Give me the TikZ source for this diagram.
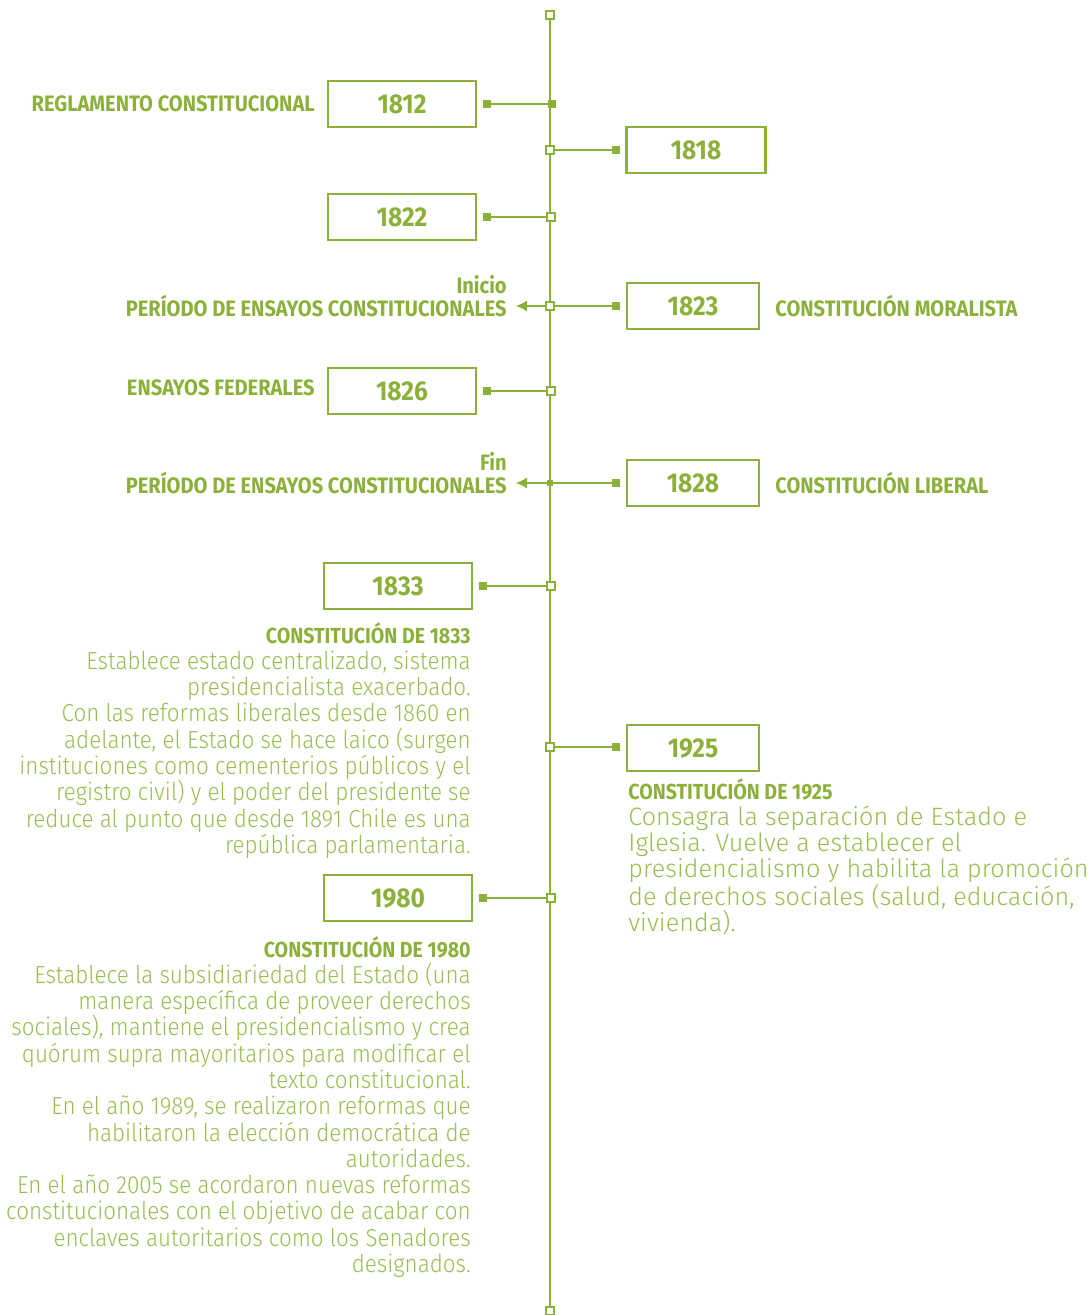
\documentclass[tikz,border=0pt]{standalone}
\usepackage{fontspec}
\setmainfont{Fira Sans}
\newfontfamily\condfont[FakeStretch=0.9]{Fira Sans}
\newfontfamily\condlight[FakeStretch=0.91]{Fira Sans Light}
\newfontfamily\widelight[LetterSpace=0.3]{Fira Sans Light}
\usetikzlibrary{arrows.meta}

\definecolor{leaf}{RGB}{140,177,58}
\definecolor{leaflight}{RGB}{152,190,80}

\tikzset{
  yearbox/.style={draw=leaf, line width=1.6pt, text=leaf, minimum height=0.92cm,
    inner sep=0pt, font=\condfont\bfseries\fontsize{15.5}{16}\selectfont},
  sqfull/.style={fill=leaf, minimum size=0.16cm, inner sep=0pt},
  sqopen/.style={draw=leaf, fill=white, line width=0.6pt, minimum size=0.16cm, inner sep=0pt},
  link/.style={draw=leaf, line width=0.9pt},
  tag/.style={text=leaf, inner sep=0pt, align=right, font=\condfont\bfseries\fontsize{12.7}{13}\selectfont},
  body/.style={text=leaflight, inner sep=0pt, font=\condlight\fontsize{14}{14.95}\selectfont},
  toleft/.style={link, -{Latex[length=6.5pt, width=6.5pt]}, shorten >=5pt},
}
\newcommand{\headline}[1]{{\condfont\bfseries\color{leaf}\fontsize{12.4}{14}\selectfont #1}}

\begin{document}
\begin{tikzpicture}[x=0.02cm, y=-0.02cm]
  \useasboundingbox (0,0) rectangle (1089,1315);
  % timeline
  \coordinate (tltop) at (550,15);
  \coordinate (tlbot) at (550,1311);
  \draw[link] (tltop) -- (tlbot);
  \node[sqopen] (top) at (tltop) {};
  \node[sqopen] (bot) at (tlbot) {};

  % 1812
  \node[yearbox, minimum width=2.96cm] (y1812) at (402,104) {1812};
  \node[sqfull] (s1812) at (487,104) {};
  \node[sqfull] (t1812) at (552,104) {};
  \draw[link] (s1812) -- (t1812);
  \node[tag, anchor=east] (l1812) at (315,104) {REGLAMENTO CONSTITUCIONAL};

  % 1818
  \node[yearbox, minimum width=2.78cm] (y1818) at (696,150) {1818};
  \node[sqopen] (t1818) at (550,150) {};
  \node[sqfull] (s1818) at (616,150) {};
  \draw[link] (t1818) -- (s1818);

  % 1822
  \node[yearbox, minimum width=2.96cm] (y1822) at (402,217) {1822};
  \node[sqfull] (s1822) at (487,217) {};
  \node[sqopen] (t1822) at (551,217) {};
  \draw[link] (s1822) -- (t1822);

  % 1823
  \node[yearbox, minimum width=2.64cm] (y1823) at (693,306) {1823};
  \node[sqopen] (t1823) at (550,306) {};
  \node[sqfull] (s1823) at (616,306) {};
  \draw[link] (t1823) -- (s1823);
  \node[tag, anchor=east] (l1823) at (507,306) {PERÍODO DE ENSAYOS CONSTITUCIONALES};
  \node[tag, anchor=south east] (i1823) at (507,294) {Inicio};
  \draw[toleft] (t1823) -- (l1823.east);
  \node[tag, anchor=west] (r1823) at (775,306) {CONSTITUCIÓN MORALISTA};

  % 1826
  \node[yearbox, minimum width=2.96cm] (y1826) at (402,391) {1826};
  \node[sqfull] (s1826) at (487,391) {};
  \node[sqopen] (t1826) at (551,391) {};
  \draw[link] (s1826) -- (t1826);
  \node[tag, anchor=east] (l1826) at (315,388) {ENSAYOS FEDERALES};

  % 1828
  \node[yearbox, minimum width=2.64cm] (y1828) at (693,483) {1828};
  \node[sqfull, minimum size=0.12cm] (t1828) at (550,483) {};
  \node[sqfull] (s1828) at (616,483) {};
  \draw[link] (t1828) -- (s1828);
  \node[tag, anchor=east] (l1828) at (507,483) {PERÍODO DE ENSAYOS CONSTITUCIONALES};
  \node[tag, anchor=south east] (f1828) at (507,471) {Fin};
  \draw[toleft] (t1828) -- (l1828.east);
  \node[tag, anchor=west] (r1828) at (775,483) {CONSTITUCIÓN LIBERAL};

  % 1833
  \node[yearbox, minimum width=2.96cm] (y1833) at (398,586) {1833};
  \node[sqfull] (s1833) at (483,586) {};
  \node[sqopen] (t1833) at (551,586) {};
  \draw[link] (s1833) -- (t1833);
  \node[body, align=right, anchor=north east] (d1833) at (471,622) {\headline{CONSTITUCIÓN DE 1833}\\
    Establece estado centralizado, sistema\\
    presidencialista exacerbado.\\
    Con las reformas liberales desde 1860 en\\
    adelante, el Estado se hace laico (surgen\\
    instituciones como cementerios públicos y el\\
    registro civil) y el poder del presidente se\\
    reduce al punto que desde 1891 Chile es una\\
    república parlamentaria.};

  % 1925
  \node[yearbox, minimum width=2.64cm] (y1925) at (693,748) {1925};
  \node[sqopen] (t1925) at (550,747) {};
  \node[sqfull] (s1925) at (616,747) {};
  \draw[link] (t1925) -- (s1925);
  \node[body, font=\widelight\fontsize{14.3}{14.8}\selectfont, align=left, anchor=north west] (d1925) at (628,778) {\headline{CONSTITUCIÓN DE 1925}\\
    Consagra la separación de Estado e\\
    Iglesia. Vuelve a establecer el\\
    presidencialismo y habilita la promoción\\
    de derechos sociales (salud, educación,\\
    vivienda).};

  % 1980
  \node[yearbox, minimum width=2.96cm] (y1980) at (398,898) {1980};
  \node[sqfull] (s1980) at (483,898) {};
  \node[sqopen] (t1980) at (551,898) {};
  \draw[link] (s1980) -- (t1980);
  \node[body, align=right, anchor=north east] (d1980) at (471,936) {\headline{CONSTITUCIÓN DE 1980}\\
    Establece la subsidiariedad del Estado (una\\
    manera específica de proveer derechos\\
    sociales), mantiene el presidencialismo y crea\\
    quórum supra mayoritarios para modificar el\\
    texto constitucional.\\
    En el año 1989, se realizaron reformas que\\
    habilitaron la elección democrática de\\
    autoridades.\\
    En el año 2005 se acordaron nuevas reformas\\
    constitucionales con el objetivo de acabar con\\
    enclaves autoritarios como los Senadores\\
    designados.};
\end{tikzpicture}
\end{document}
